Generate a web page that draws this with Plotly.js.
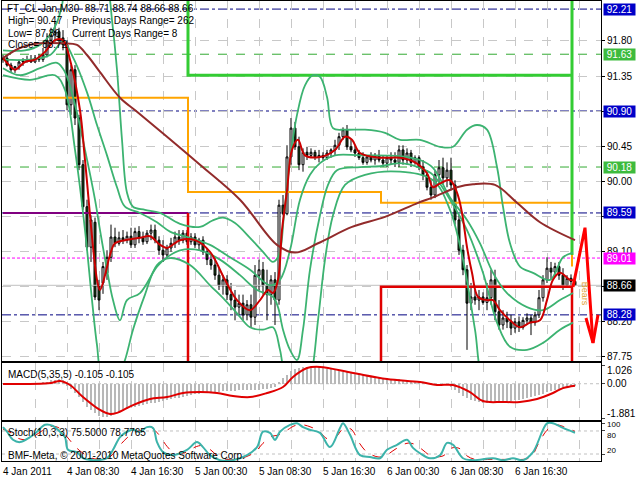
<!DOCTYPE html>
<html>
<head>
<meta charset="utf-8">
<script src="https://cdn.plot.ly/plotly-3.0.1.min.js"></script>
<style>html,body{margin:0;padding:0;background:#fff;}#chart{width:640px;height:480px;}</style>
</head>
<body>
<div id="chart"></div>
<script>
// ---------- DATA ----------
const xLabels = ['4 Jan 2011','4 Jan 08:30','4 Jan 16:30','5 Jan 00:30','5 Jan 08:30','5 Jan 16:30','6 Jan 00:30','6 Jan 08:30','6 Jan 16:30'];
const openP = [91.56,91.58,91.49,91.43,91.47,91.53,91.54,91.56,91.53,91.58,91.56,91.62,91.81,91.88,91.92,91.84,91.75,90.98,91.43,90.81,90.21,89.67,89.15,89.47,88.66,88.69,88.82,89.02,89.28,89.20,89.27,89.24,89.29,89.18,89.35,89.27,89.22,89.33,89.37,89.24,89.11,89.05,89.14,89.20,89.28,89.24,89.33,89.22,89.28,89.18,89.24,89.09,88.99,88.92,88.79,88.66,88.73,88.54,88.47,88.38,88.43,88.28,88.41,88.25,88.79,88.86,88.66,88.54,88.73,88.47,89.69,89.58,90.31,90.68,90.44,90.21,90.37,90.33,90.37,90.31,90.33,90.30,90.36,90.40,90.46,90.57,90.66,90.44,90.40,90.36,90.30,90.24,90.31,90.27,90.33,90.27,90.23,90.30,90.27,90.24,90.40,90.27,90.36,90.24,90.30,90.18,90.08,89.92,89.82,90.08,90.17,90.04,90.14,89.95,89.50,89.11,88.86,88.43,88.51,88.47,88.51,88.44,88.50,88.73,88.32,88.15,88.24,88.19,88.11,88.19,88.12,88.21,88.24,88.18,88.28,88.50,88.73,88.88,88.83,88.90,88.79,88.66,88.75,88.71];
const highP = [91.62,91.61,91.52,91.48,91.56,91.58,91.61,91.62,91.62,91.63,91.71,91.90,91.97,92.04,91.97,91.94,91.81,91.49,91.49,90.85,90.27,89.76,89.56,89.53,88.73,88.96,89.11,89.44,89.40,89.35,89.37,89.35,89.40,89.40,89.42,89.35,89.37,89.44,89.44,89.29,89.24,89.18,89.27,89.35,89.37,89.37,89.37,89.33,89.33,89.27,89.29,89.14,89.05,89.01,88.88,88.79,88.79,88.69,88.60,88.54,88.54,88.47,88.54,88.92,88.99,88.96,88.86,88.79,88.83,89.76,89.82,90.46,90.81,90.76,90.57,90.42,90.44,90.42,90.40,90.40,90.37,90.40,90.42,90.53,90.62,90.69,90.72,90.53,90.46,90.40,90.37,90.33,90.37,90.36,90.40,90.33,90.33,90.37,90.37,90.46,90.46,90.42,90.40,90.33,90.33,90.27,90.14,90.01,90.14,90.27,90.30,90.24,90.30,90.01,89.56,89.18,88.92,88.69,88.60,88.60,88.57,88.69,88.86,88.86,88.47,88.34,88.32,88.28,88.24,88.26,88.25,88.30,88.28,88.32,88.60,88.79,89.02,88.96,88.95,88.96,88.88,88.79,88.80,88.74];
const lowP = [91.52,91.47,91.40,91.39,91.43,91.48,91.52,91.52,91.52,91.53,91.53,91.59,91.75,91.79,91.77,91.68,90.91,90.85,90.72,90.14,89.63,89.11,88.96,88.47,88.34,88.55,88.73,88.96,89.15,89.17,89.19,89.20,89.14,89.14,89.20,89.18,89.19,89.24,89.20,89.05,88.96,89.01,89.09,89.14,89.18,89.20,89.18,89.18,89.14,89.11,89.05,88.92,88.86,88.73,88.60,88.54,88.47,88.34,88.21,88.28,88.21,88.21,88.12,88.15,88.60,88.54,88.21,88.41,88.15,88.41,89.56,89.56,90.21,90.40,90.14,90.12,90.27,90.30,90.27,90.24,90.27,90.27,90.30,90.33,90.40,90.53,90.40,90.37,90.31,90.27,90.21,90.21,90.24,90.21,90.24,90.18,90.18,90.21,90.18,90.18,90.21,90.21,90.18,90.21,90.14,90.01,89.88,89.76,89.78,89.97,89.95,89.92,89.88,89.44,89.05,88.79,87.83,88.34,88.41,88.34,88.41,88.34,88.41,88.21,88.09,88.09,88.11,88.02,88.05,88.06,88.09,88.15,88.02,88.14,88.24,88.45,88.69,88.73,88.77,88.73,88.60,88.63,88.64,88.66];
const closeP = [91.58,91.49,91.43,91.47,91.53,91.54,91.56,91.53,91.58,91.56,91.62,91.81,91.88,91.92,91.84,91.75,90.98,91.43,90.81,90.21,89.67,89.15,89.50,88.51,88.47,88.90,89.02,89.28,89.20,89.27,89.24,89.29,89.18,89.35,89.27,89.22,89.33,89.37,89.24,89.11,89.05,89.14,89.20,89.28,89.24,89.33,89.22,89.28,89.18,89.24,89.09,88.99,88.92,88.79,88.66,88.73,88.54,88.47,88.38,88.43,88.28,88.41,88.25,88.79,88.86,88.66,88.54,88.73,88.47,89.69,89.58,90.31,90.68,90.44,90.21,90.37,90.33,90.37,90.31,90.33,90.30,90.36,90.40,90.46,90.57,90.66,90.44,90.40,90.36,90.30,90.24,90.31,90.27,90.33,90.27,90.23,90.30,90.27,90.24,90.40,90.27,90.36,90.24,90.30,90.18,90.08,89.92,89.82,90.08,90.17,90.04,90.14,89.95,89.50,89.11,88.86,88.43,88.51,88.47,88.51,88.44,88.50,88.73,88.32,88.15,88.24,88.19,88.11,88.19,88.12,88.21,88.24,88.18,88.28,88.50,88.73,88.88,88.83,88.90,88.79,88.66,88.75,88.71,88.66];

// short red moving average (bar index, price)
const fastMaX = [0,1.75,3,5.5,8,10.5,13,15,16.75,19.25,20.5,23.5,24.25,25.5,26.75,28,30.5,34.25,36.75,39.25,41,44.25,48,51.75,55.5,58.5,61.75,64.25,66.25,67.5,68.75,69.75,71,72.25,73.75,75.5,79.25,83,85.5,87.25,89.25,94.25,99.25,103,106,107.5,109.25,111.75,113.5,114.75,116,117.25,118.75,121,122.5,124.25,126.75,129.25,131.75,134.25,136,137.5,139.25,141.75,143];
const fastMaY = [91.58,91.48,91.43,91.53,91.56,91.66,91.81,91.81,91.56,90.91,90.27,88.73,88.60,88.79,89.05,89.20,89.24,89.27,89.29,89.18,89.14,89.24,89.24,89.09,88.73,88.47,88.34,88.47,88.60,88.56,88.73,89.37,89.88,90.40,90.53,90.33,90.31,90.40,90.57,90.53,90.36,90.30,90.30,90.24,90.10,89.92,89.97,90.01,89.85,89.59,89.15,88.82,88.51,88.47,88.47,88.34,88.21,88.12,88.18,88.21,88.47,88.73,88.82,88.73,88.73];
// long brown moving average
const slowMaX = [0,4.25,9.25,15,18.5,21,24.25,29.25,33.5,41,49.25,59.25,68.5,73,78.75,87.25,95.5,103.75,107.5,113.5,117.5,123,128.5,134.25,143];
const slowMaY = [91.58,91.71,91.77,91.77,91.75,91.62,91.40,91.07,90.89,90.57,90.21,89.76,89.18,89.08,89.20,89.41,89.54,89.72,89.79,89.92,89.96,89.95,89.72,89.47,89.24];
// bands (teal)
const bandUpX = [0,5.5,9.25,11.75,13.5,14.75,16,23,26.25,27.25,28.5,29.75,31,32.5,35.5,39.25,44.25,49.25,52.25,55,58,61.75,65,67.5,69,70.25,71.75,73.5,75.5,77.5,79.25,81,82.5,85.5,90.5,95.5,99.25,104.25,109.25,112.5,116,118.5,121,123.5,125,126.75,129.25,132.5,136.75,140,142.5];
const bandUpY = [91.68,91.68,91.75,91.88,92.04,92.26,92.58,92.84,92.46,92.07,91.43,90.53,89.85,89.67,89.63,89.59,89.45,89.41,89.49,89.53,89.46,89.27,89.09,88.96,89.05,89.56,90.27,90.85,91.23,91.36,91.34,91.08,90.68,90.66,90.66,90.62,90.53,90.53,90.44,90.44,90.66,90.72,90.66,90.18,89.67,89.20,88.90,88.82,88.73,89.02,89.08];
const bandMidX = [0,6.75,11.75,15,17.5,21,23.5,26,28.5,30.5,34.25,38.5,41.75,46.75,51.75,56.75,61.75,66.75,69.25,71.75,74.25,76.75,79.25,83,89.25,99.25,104.25,107.5,111.75,116,119.25,122.5,126,131,135,139.25,142.5];
const bandMidY = [91.56,91.56,91.62,91.79,91.59,91.14,90.72,90.33,89.92,89.67,89.59,89.47,89.35,89.27,89.18,89.02,88.86,88.66,88.73,89.11,89.76,90.08,90.23,90.33,90.33,90.32,90.27,90.17,89.79,89.50,89.20,88.82,88.56,88.38,88.34,88.47,88.56];
const bandLowX = [0,4.25,9.25,13.5,15.5,18,20.5,23,24.25,26,27.5,29.25,31,34.25,38.5,41,44.25,49.25,54.25,59.25,63.5,67.5,68.75,70,71.75,73.5,75,76.75,79.25,81.25,83.5,89.25,94.25,99.25,104.25,107.5,111.75,116,120,123.5,126.75,131,135,139.25,142.5];
const bandLowY = [91.45,91.36,91.45,91.52,91.40,90.98,90.40,89.76,89.37,88.86,88.47,88.21,88.47,88.56,88.90,89.02,89.11,89.11,88.99,88.79,88.60,88.51,88.38,88.09,87.83,87.70,88.09,88.86,89.56,89.95,90.14,90.18,90.19,90.23,90.17,90.08,89.76,89.37,88.82,88.18,87.87,87.83,87.92,88.09,88.18];
const bandOutX = [0,6.75,13,15.5,18,20.5,22.25,23.5,24.75,28,30.5,32.5,35.5,38.5,41.75,46.75,51.75,55.5,58.5,61.75,65,67.5,69.25,71,74.25,76.75,78.75,80.5,82.5,85.5,90.5,99.25,107.5,111.75,115,118,120,124.25,131.75,139.25,142.5];
const bandOutY = [91.36,91.30,91.36,91.17,90.40,89.37,88.47,87.89,87.51,87.38,87.70,88.09,88.54,88.92,89.01,88.92,88.66,88.47,88.30,88.12,88.09,88.12,87.83,87.38,87.19,87.44,88.21,88.99,89.56,89.95,90.08,90.12,90.01,89.63,88.99,88.09,87.44,87.19,87.31,87.57,87.64];
// daily step levels
const orangeX = [0,46.25,46.25,94.5,94.5,142.25,142.25];
const orangeY = [91.07,91.07,89.86,89.86,89.72,89.72,88.90];
const greenX = [46.25,46.25,142.25,142.25,142.25];
const greenY = [92.40,91.36,91.36,92.40,89.05];
const purpleX = [0,46.25];
const purpleY = [89.59,89.59];
const redStepX = [46.25,46.25,null,94.5,94.5,142.25,142.25];
const redStepY = [89.59,87.60,null,87.60,88.64,88.64,87.60];
const arrowX = [142.5,145.5,147.5,null,145.75,147.5,148.75];
const arrowY = [88.64,89.40,87.92,null,88.24,87.92,88.28];
// horizontal levels
const navyLevels = [92.21,90.90,89.59,88.28];
const greenLevels = [91.63,90.18];
const magentaLevels = [89.01];
const bidPrice = 88.66;
const priceTicks = [91.80,91.35,90.90,90.45,90.00,89.55,89.10,88.65,88.20,87.75];
const hiddenTicks = [89.55,88.65];
const tagValues = [92.21,91.63,90.90,90.18,89.59,89.01,88.66,88.28];
const tagColors = ['#0000C8','#3DBB3D','#0000C8','#3DBB3D','#0000C8','#FF00FF','#000000','#0000C8'];
// MACD
const macdHist = [0.02,0.02,0.01,0.0,0.01,0.02,0.03,0.03,0.04,0.05,0.07,0.12,0.18,0.22,0.24,0.2,-0.1,-0.3,-0.5,-0.75,-1.0,-1.25,-1.45,-1.62,-1.75,-1.84,-1.84,-1.78,-1.68,-1.6,-1.5,-1.4,-1.3,-1.25,-1.2,-1.15,-1.1,-1.07,-1.03,-0.98,-0.93,-0.88,-0.84,-0.8,-0.76,-0.72,-0.68,-0.63,-0.58,-0.54,-0.52,-0.5,-0.48,-0.46,-0.44,-0.42,-0.4,-0.39,-0.38,-0.37,-0.36,-0.35,-0.35,-0.33,-0.32,-0.31,-0.3,-0.26,-0.2,0.1,0.3,0.5,0.7,0.8,0.87,0.9,0.92,0.92,0.91,0.9,0.86,0.82,0.78,0.74,0.7,0.66,0.62,0.58,0.55,0.52,0.48,0.45,0.42,0.39,0.36,0.33,0.3,0.28,0.26,0.24,0.22,0.2,0.17,0.14,0.11,0.08,0.05,0.02,0.0,0.01,0.0,-0.05,-0.2,-0.35,-0.5,-0.65,-0.78,-0.88,-0.95,-1.0,-1.05,-1.08,-1.08,-1.06,-1.02,-0.99,-0.96,-0.93,-0.9,-0.87,-0.83,-0.78,-0.74,-0.7,-0.63,-0.56,-0.48,-0.42,-0.35,-0.29,-0.23,-0.17,-0.13,-0.105];
const macdSigX = [0,12,14.25,16.75,20,24.25,26.75,28.5,32.5,36.75,41,45,49.25,53.5,57.5,61.75,66,70,72.5,76,79.25,87.5,96,104.25,108.5,112.5,116.75,120,125,129.25,133.5,137.5,140,143];
const macdSigY = [-0.02,0.04,0.15,-0.07,-0.73,-1.44,-1.66,-1.6,-1.17,-0.84,-0.73,-0.51,-0.46,-0.51,-0.67,-0.73,-0.51,-0.18,0.37,0.86,0.92,0.59,0.26,0.09,-0.07,-0.07,-0.46,-0.95,-1.0,-1.0,-0.84,-0.51,-0.24,-0.105];
const macdScale = [1.026,0,-1.881];
// Stochastic
const stochX = [0,1,2.5,4.25,6.75,8.5,10.5,12.5,14.25,15.5,16.25,18.5,20,22.5,26,27.5,29.25,31,32.5,34.25,36,37.5,38.5,40,42.5,46,48.5,50,51.75,54.25,57.5,61,63.5,65,66.75,68,69.25,71.75,73.5,75,76.75,79.25,81.75,84.25,85,86.75,89.25,91.75,94.25,96,98.5,101,102.5,104.25,106.75,109.25,111,112.5,115,117.5,122.5,125,127.5,130,132.5,136,137.5,140,143];
const stochMain = [90,78,57,51,64,78,96,93,78,64,31,25,9,4,9,31,64,78,83,78,90,88,51,25,17,31,51,38,17,4,4,17,38,78,75,57,78,96,100,90,83,75,38,88,100,70,17,12,9,31,44,57,36,22,9,17,49,44,9,4,9,4,9,4,25,100,100,88,75.5];
const stochSigX = [0,2,4,6,8,10,12,14,16,18,20,22,25,27,29,31,33,35,37,39,41,43,46,48,50,52,54,57,60,63,65,67,69,71,73,75,77,79,81,83,85,87,89,91,94,96,98,101,103,105,107,110,112,114,116,118,122,125,128,130,132,134,136,138,140,143];
const stochSig = [85,75,60,58,68,82,92,88,65,40,22,10,6,15,40,62,78,82,88,70,40,22,25,38,42,30,12,5,10,25,48,65,70,82,94,96,90,80,60,62,85,85,50,25,12,18,32,48,45,30,15,15,35,35,15,6,6,6,6,6,12,50,82,96,92,78.8];
const stochScale = [100,80,20,0];

// ---------- CHART ----------
const F = 'Liberation Sans, Arial, sans-serif';
function px(x){ return (x-2)/599; }
function py(y){ return (461-y)/460; }
function ln(x,y,color,width,dash,xa,ya,shape){
  return {type:'scatter',mode:'lines',x:x,y:y,xaxis:xa||'x',yaxis:ya||'y',
    line:{color:color,width:width,dash:dash||'solid',shape:shape||'linear'},
    hoverinfo:'skip',showlegend:false,connectgaps:false};
}
const traces = [];
traces.push({type:'candlestick',open:openP,high:highP,low:lowP,close:closeP,xaxis:'x',yaxis:'y',
  increasing:{line:{color:'#000000',width:1},fillcolor:'#FFFFFF'},
  decreasing:{line:{color:'#000000',width:1},fillcolor:'#1A4A1A'},
  whiskerwidth:0,hoverinfo:'skip',showlegend:false});
traces.push(ln([0,149.5],[bidPrice,bidPrice],'#C0C0C0',1));
traces.push(ln(orangeX,orangeY,'#FFA500',2));
traces.push(ln(purpleX,purpleY,'#800080',2));
traces.push(ln(redStepX,redStepY,'#E00000',2.5));
traces.push(ln(greenX,greenY,'#33CC33',3));
traces.push(ln(bandUpX,bandUpY,'#3CB371',1.8,'solid','x','y','spline'));
traces.push(ln(bandMidX,bandMidY,'#3CB371',1.8,'solid','x','y','spline'));
traces.push(ln(bandLowX,bandLowY,'#3CB371',1.8,'solid','x','y','spline'));
traces.push(ln(bandOutX,bandOutY,'#3CB371',1.8,'solid','x','y','spline'));
traces.push(ln(slowMaX,slowMaY,'#922B2B',2,'solid','x','y','spline'));
traces.push(ln(fastMaX,fastMaY,'#CC0000',2,'solid','x','y','spline'));
traces.push(ln(arrowX,arrowY,'#FF0000',3));
// MACD
traces.push({type:'bar',y:macdHist,xaxis:'x2',yaxis:'y2',marker:{color:'#B8B8B8'},width:0.6,hoverinfo:'skip',showlegend:false});
traces.push(ln(macdSigX,macdSigY,'#E00000',2,'solid','x2','y2','spline'));
// Stoch
traces.push(ln(stochSigX,stochSig,'#E00000',1,'dash','x3','y3','spline'));
traces.push(ln(stochX,stochMain,'#3CB3AA',2,'solid','x3','y3','spline'));

const shapes = [];
navyLevels.forEach(v=>shapes.push({type:'line',xref:'paper',x0:0,x1:1,yref:'y',y0:v,y1:v,line:{color:'#000080',width:1,dash:'dashdot'},layer:'below'}));
greenLevels.forEach(v=>shapes.push({type:'line',xref:'paper',x0:0,x1:1,yref:'y',y0:v,y1:v,line:{color:'#33AA33',width:1,dash:'dash'},layer:'below'}));
magentaLevels.forEach(v=>shapes.push({type:'line',xref:'paper',x0:0,x1:1,yref:'y',y0:v,y1:v,line:{color:'#FF00FF',width:1,dash:'3px,2px'},layer:'below'}));
shapes.push({type:'line',xref:'paper',x0:0,x1:1,yref:'y2',y0:0,y1:0,line:{color:'#C0C0C0',width:1,dash:'3px,3px'},layer:'below'});
[80,20].forEach(v=>shapes.push({type:'line',xref:'paper',x0:0,x1:1,yref:'y3',y0:v,y1:v,line:{color:'#C0C0C0',width:1,dash:'3px,3px'},layer:'below'}));

const ann = [];
function txt(x,y,t,opts){ ann.push(Object.assign({xref:'paper',yref:'paper',x:x,y:y,text:t,showarrow:false,xanchor:'left',yanchor:'middle',font:{family:F,size:10,color:'#000'}},opts||{})); }
txt(px(5),py(8),'FT_CL-Jan,M30  88.71 88.74 88.66 88.66');
txt(px(6),py(21),'High= 90.47');
txt(px(70),py(21),'Previous Days Range= 262');
txt(px(6),py(33),'Low= 87.86');
txt(px(70),py(33),'Current Days Range= 8');
txt(px(6),py(44),'Close= 88.72');
txt(px(6),py(374),'MACD(5,35,5) -0.105 -0.105');
txt(px(6),py(432),'Stoch(10,3,3) 75.5000 78.7765');
txt(px(6),py(455),'BMF-Meta, \u00a9 2001-2010 MetaQuotes Software Corp.');
xLabels.forEach((t,k)=>ann.push({xref:'x3',yref:'paper',x:k*16,y:0,yanchor:'top',yshift:-3,xanchor:'left',xshift:-2,text:t,showarrow:false,font:{family:F,size:10,color:'#000'}}));
tagValues.forEach((v,k)=>ann.push({xref:'paper',x:1,xshift:2,xanchor:'left',yref:'y',y:v,yanchor:'middle',text:v.toFixed(2),showarrow:false,bgcolor:tagColors[k],width:31,height:11,borderpad:0,font:{family:F,size:10,color:'#FFFFFF'}}));
// MACD scale labels
const macdShift=[-5,0,5];
macdScale.forEach((v,k)=>ann.push({xref:'paper',x:1,xshift:4,xanchor:'left',yref:'y2',y:v,yshift:macdShift[k],yanchor:'middle',text:(k===1?'0.00':v.toFixed(3)),showarrow:false,font:{family:F,size:10,color:'#000'}}));
const stShift=[-1,-5,4,3];
stochScale.forEach((v,k)=>ann.push({xref:'paper',x:1,xshift:4,xanchor:'left',yref:'y3',y:v,yshift:stShift[k],yanchor:'middle',text:String(v),showarrow:false,font:{family:F,size:8,color:'#000'}}));
ann.push({xref:'x',yref:'y',x:145.5,y:88.55,text:'Bears',textangle:90,showarrow:false,font:{family:F,size:9,color:'#E0A030'}});

const xbase = {range:[-0.25,149.5],showgrid:true,gridcolor:'#C8C8C8',griddash:'dash',tick0:0,dtick:8,showticklabels:false,ticks:'',showline:true,linecolor:'#000',linewidth:1,mirror:true,zeroline:false,fixedrange:true};
const layout = {
  width:640,height:480,margin:{l:2,r:39,t:1,b:19},paper_bgcolor:'#fff',plot_bgcolor:'#fff',
  showlegend:false,hovermode:false,
  xaxis:Object.assign({},xbase,{anchor:'y',rangeslider:{visible:false}}),
  xaxis2:Object.assign({},xbase,{anchor:'y2',matches:'x'}),
  xaxis3:Object.assign({},xbase,{anchor:'y3',matches:'x'}),
  yaxis:{domain:[0.2174,1],range:[87.687,92.314],side:'right',tickvals:priceTicks,
    ticktext:priceTicks.map(v=>hiddenTicks.includes(v)?'':v.toFixed(2)),
    ticks:'outside',ticklen:3,tickcolor:'#000',tickfont:{family:F,size:10,color:'#000'},
    showgrid:true,gridcolor:'#C8C8C8',griddash:'dash',showline:true,linecolor:'#000',mirror:true,zeroline:false,fixedrange:true},
  yaxis2:{domain:[0.0891,0.2130],range:[-1.99,1.135],side:'right',tickvals:macdScale,ticks:'outside',ticklen:3,showticklabels:false,
    showgrid:false,showline:true,linecolor:'#000',mirror:true,zeroline:false,fixedrange:true},
  yaxis3:{domain:[0,0.0848],range:[1.8,103.4],side:'right',tickvals:stochScale,ticks:'outside',ticklen:3,showticklabels:false,
    showgrid:false,showline:true,linecolor:'#000',mirror:true,zeroline:false,fixedrange:true},
  shapes:shapes,annotations:ann,bargap:0
};
Plotly.newPlot('chart',traces,layout,{staticPlot:true,displayModeBar:false});
</script>
</body>
</html>
